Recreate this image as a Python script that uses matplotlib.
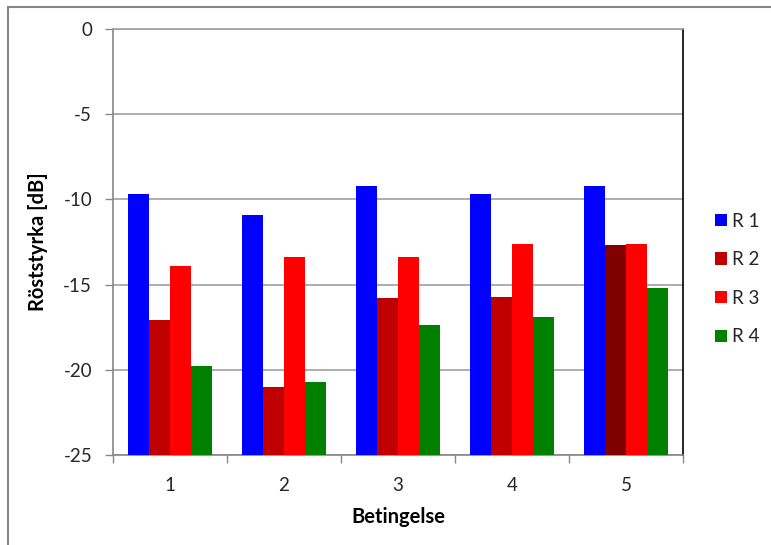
import numpy as np
import matplotlib
matplotlib.use('Agg')
from matplotlib import pyplot as plt
from matplotlib.patches import Rectangle, Patch

plt.rcParams['font.family'] = ['Lato', 'DejaVu Sans']

# data
conditions = ['1', '2', '3', '4', '5']
series_names = ['R 1', 'R 2', 'R 3', 'R 4']
r1 = [-9.7, -10.9, -9.2, -9.7, -9.2]
r2 = [-17.1, -21.0, -15.8, -15.7, -12.7]
r3 = [-13.9, -13.4, -13.4, -12.6, -12.6]
r4 = [-19.8, -20.7, -17.4, -16.9, -15.2]
yticks = [0, -5, -10, -15, -20, -25]

colors = ['#0000FF', '#C00000', '#FF0000', '#008000']
# last R2 bar is a darker red in the original
r2_colors = ['#C00000', '#C00000', '#C00000', '#C00000', '#800000']
txtcol = '#262626'

W, H = 771, 545
fig = plt.figure(figsize=(W / 100, H / 100), dpi=100)

# chart area border (cut off at right/bottom in the reference)
fig.patches.append(Rectangle((8 / W, -0.1), 1.1, 1 - 7 / H + 0.1, transform=fig.transFigure,
                             fill=False, edgecolor='#868686', linewidth=1.5))

ax = fig.add_axes([113 / W, 1 - 455 / H, (683 - 113) / W, (455 - 29) / H])

base = -25
x = np.arange(len(conditions))
bw = 0.183
allvals = [r1, r2, r3, r4]
for i, vals in enumerate(allvals):
    offs = (i - 1.5) * bw
    c = r2_colors if i == 1 else colors[i]
    ax.bar(x + offs, np.array(vals) - base, bottom=base, width=bw, color=c,
           edgecolor='none', zorder=3)

ax.set_ylim(-25, 0)
ax.set_xlim(-0.5, len(conditions) - 0.5)
ax.set_yticks(yticks)
ax.set_yticklabels([str(t) for t in yticks])
ax.yaxis.grid(True, color='#a0a0a0', linewidth=1.2, zorder=0)
ax.set_xticks(x)
ax.set_xticklabels(conditions)
ax.set_xticks(np.arange(len(conditions) + 1) - 0.5, minor=True)
ax.tick_params(axis='x', which='major', length=0, pad=16, labelsize=13.5, labelcolor=txtcol)
ax.tick_params(axis='x', which='minor', length=6, color='#868686', width=1)
ax.tick_params(axis='y', length=6, color='#868686', width=1, labelsize=13.5, pad=9,
               labelcolor=txtcol)

for s in ['left', 'bottom']:
    ax.spines[s].set_color('#868686')
    ax.spines[s].set_linewidth(1.2)
ax.spines['top'].set_color('#a0a0a0')
ax.spines['top'].set_linewidth(1.2)
ax.spines['right'].set_color('black')
ax.spines['right'].set_linewidth(1.2)

ax.set_ylabel('Röststyrka [dB]', fontsize=14.5, fontweight='bold', labelpad=11, color='black')
ax.set_xlabel('Betingelse', fontsize=14.5, fontweight='bold', labelpad=9, color='black')

handles = [Patch(facecolor=colors[i], edgecolor='none') for i in range(4)]
fig.legend(handles, series_names, loc='center left', bbox_to_anchor=(698 / W, 1 - 279 / H),
           frameon=False, fontsize=13.5, handlelength=0.65, handleheight=0.65,
           handletextpad=0.25, labelspacing=1.15, labelcolor=txtcol)

fig.savefig('out.png', dpi=100)
